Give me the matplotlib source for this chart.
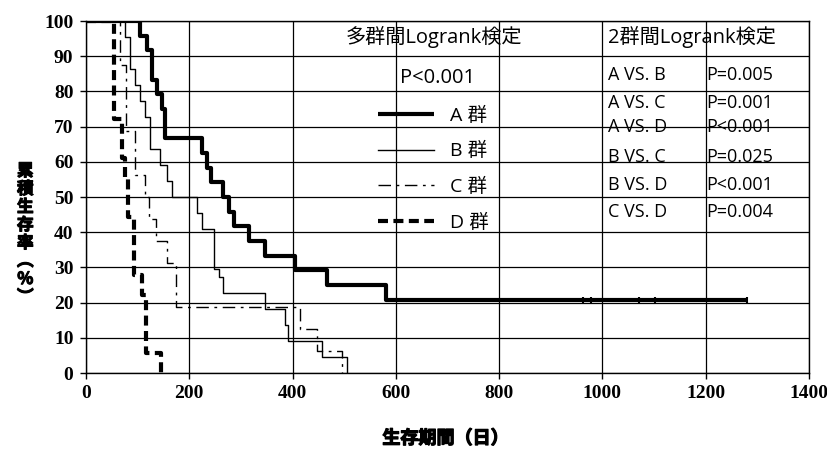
import matplotlib
matplotlib.use("Agg")
import matplotlib.pyplot as plt
import matplotlib.patheffects as pe

plt.rcParams['font.family'] = ['Noto Sans CJK JP', 'DejaVu Sans']

# ---------------- data ----------------
A_t = [0, 105, 118, 127, 137, 147, 153, 225, 235, 243, 266, 276, 286, 315, 347, 405, 467, 580, 1280]
A_s = [100, 95.8, 91.7, 83.3, 79.2, 75, 66.7, 62.5, 58.3, 54.2, 50, 45.8, 41.7, 37.5, 33.3, 29.2, 25, 20.8, 20.8]
A_cens_t = [962, 977, 1070, 1101, 1280]

B_t = [0, 75, 85, 95, 105, 114, 124, 143, 156, 166, 214, 225, 247, 257, 266, 347, 386, 392, 457, 505]
B_s = [100, 95.5, 86.4, 81.8, 77.3, 72.7, 63.6, 59.1, 54.5, 50, 45.5, 40.9, 29.5, 27.3, 22.7, 18.2, 13.6, 9.1, 4.5, 0]

C_t = [0, 66, 78, 95, 114, 122, 135, 157, 175, 415, 447, 496]
C_s = [100, 87.5, 68.75, 56.25, 50, 43.75, 37.5, 31.25, 18.75, 12.5, 6.25, 0]

D_t = [0, 54, 70, 75, 82, 93, 108, 116, 145]
D_s = [100, 72.2, 61.1, 55.6, 44.4, 27.8, 22.2, 5.6, 0]

group_labels = ['A 群', 'B 群', 'C 群', 'D 群']
multi_title = '多群間Logrank検定'
multi_p = 'P<0.001'
pair_title = '2群間Logrank検定'
pair_labels = ['A VS. B', 'A VS. C', 'A VS. D', 'B VS. C', 'B VS. D', 'C VS. D']
pair_p = ['P=0.005', 'P=0.001', 'P<0.001', 'P=0.025', 'P<0.001', 'P=0.004']

x_ticks = [0, 200, 400, 600, 800, 1000, 1200, 1400]
y_ticks = [0, 10, 20, 30, 40, 50, 60, 70, 80, 90, 100]
x_label = '生存期間（日）'
y_label = '累積生存率︵%︶'

# ---------------- figure ----------------
W, H = 828, 450
fig = plt.figure(figsize=(W / 100, H / 100), dpi=100)
L, R, T, B = 86, 809, 21, 373
ax = fig.add_axes([L / W, 1 - B / H, (R - L) / W, (B - T) / H])

ax.set_xlim(0, 1400)
ax.set_ylim(0, 100)
ax.set_xticks(x_ticks)
ax.set_yticks(y_ticks)
ax.grid(True, color='black', linewidth=0.9)
ax.set_axisbelow(True)
for sp in ax.spines.values():
    sp.set_color('black')
    sp.set_linewidth(1.0)
ax.tick_params(direction='out', length=4, width=1, colors='black', pad=5)
tick_font = dict(family='Liberation Serif', weight='bold', size=14)
ax.set_xticklabels([str(v) for v in x_ticks], fontdict=tick_font)
ax.set_yticklabels([str(v) for v in y_ticks], fontdict=tick_font)

lA, = ax.step(A_t, A_s, where='post', color='black', linewidth=3.0, solid_capstyle='butt')
lB, = ax.step(B_t, B_s, where='post', color='black', linewidth=1.0)
lC, = ax.step(C_t, C_s, where='post', color='black', linewidth=1.0, linestyle=(0, (9, 4, 2, 4)))
lD, = ax.step(D_t, D_s, where='post', color='black', linewidth=3.0, linestyle=(0, (2.4, 1.3)))
ax.plot(A_cens_t, [A_s[-1]] * len(A_cens_t), linestyle='none', marker='|',
        markersize=5, markeredgewidth=1.5, color='black')

tf = ['Open Sans', 'Noto Sans CJK JP']
leg = ax.legend([lA, lB, lC, lD], group_labels, loc='upper left',
                bbox_to_anchor=(0.404, 0.757), frameon=False, borderpad=0,
                borderaxespad=0, handlelength=2.9, handletextpad=0.8,
                labelspacing=0.9, prop=dict(family=tf, size=14))

ax.text(673, 95.5, multi_title, ha='center', va='center', family=tf, size=14.5)
ax.text(681, 83.8, multi_p, ha='center', va='center', family=tf, size=14.5)
ax.text(1010, 95.5, pair_title, ha='left', va='center', family=tf, size=14.5)
row_y = [84.7, 76.7, 69.9, 61.4, 53.4, 45.7]
for lab, p, yy in zip(pair_labels, pair_p, row_y):
    ax.text(1010, yy, lab, ha='left', va='center', family=tf, size=13)
    ax.text(1202, yy, p, ha='left', va='center', family=tf, size=13)

xl = ax.set_xlabel(x_label, family='Noto Sans CJK JP', weight='bold', size=13, va='center')
xl.set_path_effects([pe.withStroke(linewidth=0.9, foreground='black')])
ax.xaxis.set_label_coords(0.497, -0.185)
yl = ax.set_ylabel('\n'.join(y_label), family='Noto Sans CJK JP', weight='bold', size=12,
                   rotation=0, va='center', ha='center', linespacing=1.0)
yl.set_path_effects([pe.withStroke(linewidth=0.8, foreground='black')])
ax.yaxis.set_label_coords(-0.084, 0.395)

fig.savefig('out.png', dpi=100, facecolor='white')
